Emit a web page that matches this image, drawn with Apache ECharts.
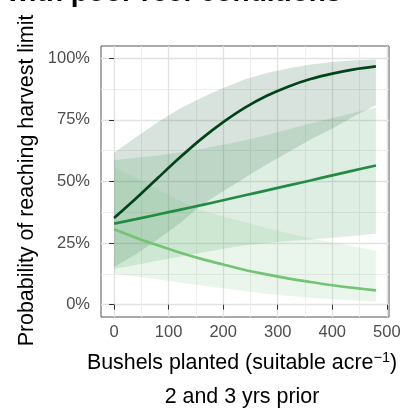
<!DOCTYPE html>
<html><head><meta charset="utf-8">
<script src="https://cdn.jsdelivr.net/npm/echarts@6/dist/echarts.min.js"></script>
<style>html,body{margin:0;padding:0;background:#fff}#c{width:417px;height:410px}</style>
</head><body><div id="c"></div>
<script>
// Bushels planted (suitable acre^-1)
const bushels   = [0, 40, 80, 120, 160, 200, 240, 280, 320, 360, 400, 440, 480];
// dark green series (fit + interval), %
const darkFit   = [35.2, 43.1, 51.4, 59.6, 67.3, 74.1, 80.0, 84.8, 88.6, 91.6, 93.8, 95.5, 96.7];
const darkLo    = [15.3, 20.5, 26.5, 33.0, 40.5, 46.0, 51.5, 57.0, 62.0, 67.0, 71.5, 76.5, 81.0];
const darkHi    = [61.7, 68.0, 74.0, 79.5, 84.0, 88.0, 91.5, 94.0, 96.0, 97.5, 98.5, 99.2, 99.5];
// medium green series
const midFit    = [32.9, 34.7, 36.6, 38.5, 40.4, 42.4, 44.4, 46.4, 48.4, 50.4, 52.5, 54.5, 56.5];
const midLo     = [14.5, 16.1, 17.8, 19.5, 21.1, 22.7, 24.1, 25.0, 25.8, 26.5, 27.2, 28.0, 28.8];
const midHi     = [58.6, 59.6, 60.6, 61.8, 63.2, 64.9, 66.7, 68.9, 71.2, 73.5, 75.8, 77.9, 80.0];
// light green series
const lightFit  = [30.6, 27.2, 24.1, 21.2, 18.6, 16.3, 14.1, 12.3, 10.6, 9.2, 7.9, 6.8, 5.8];
const lightLo   = [12.6, 11.5, 10.3, 9.0, 7.8, 6.7, 5.5, 4.4, 3.5, 2.8, 2.2, 1.7, 1.3];
const lightHi   = [56.0, 51.5, 46.8, 42.3, 38.3, 35.8, 33.6, 31.0, 29.0, 27.0, 25.3, 23.6, 22.0];
// tick labels / gridlines
const xMajorTicks = [0, 100, 200, 300, 400, 500];
const xMinorTicks = [50, 150, 250, 350, 450];
const yMajorTicks = [0, 25, 50, 75, 100];
const yMinorTicks = [12.5, 37.5, 62.5, 87.5];

const FONT = '"Liberation Sans", Arial, Helvetica, sans-serif';
const chart = echarts.init(document.getElementById('c'), null, {renderer: 'canvas'});

function pairs(ys) { return bushels.map((x, i) => [x, ys[i]]); }

function ribbon(id, lo, hi, color) {
  return {
    type: 'custom', name: id, coordinateSystem: 'cartesian2d', xAxisIndex: 0, yAxisIndex: 0,
    data: bushels.map((x, i) => [x, lo[i], hi[i]]),
    encode: {x: 0, y: [1, 2]},
    silent: true, z: 2, animation: false,
    renderItem: function (params, api) {
      if (params.dataIndex !== 0) return null;
      const pts = [];
      for (let i = 0; i < bushels.length; i++) pts.push(api.coord([bushels[i], hi[i]]));
      for (let i = bushels.length - 1; i >= 0; i--) pts.push(api.coord([bushels[i], lo[i]]));
      return {type: 'polygon', shape: {points: pts}, style: {fill: color}};
    }
  };
}
function fitLine(id, ys, color) {
  return {type: 'line', name: id, data: pairs(ys), symbol: 'none', smooth: 0.3,
    lineStyle: {color: color, width: 2.7}, z: 3, silent: true, animation: false};
}

const series = [
  ribbon('dark', darkLo, darkHi, 'rgba(0,68,27,0.15)'),
  ribbon('mid', midLo, midHi, 'rgba(35,139,69,0.15)'),
  ribbon('light', lightLo, lightHi, 'rgba(116,196,118,0.15)'),
  fitLine('lightFit', lightFit, '#74c476'),
  fitLine('midFit', midFit, '#238b45'),
  fitLine('darkFit', darkFit, '#00441b')
];

const option = {
  animation: false,
  backgroundColor: '#fff',
  grid: {left: 101, top: 46, width: 288, height: 271, show: true, borderColor: '#555', borderWidth: 1, backgroundColor: '#fff'},
  xAxis: [
    {type: 'value', min: -24, max: 504, position: 'bottom',
     axisLine: {show: false},
     axisTick: {show: true, length: 5, customValues: xMajorTicks, lineStyle: {color: '#333', width: 1}},
     axisLabel: {customValues: xMajorTicks, color: '#4d4d4d', fontSize: 16.5, margin: 7, fontFamily: FONT},
     splitLine: {show: true, lineStyle: {color: '#e2e2e2', width: 1.3}}},
    {type: 'value', min: -24, max: 504, position: 'top',
     axisLine: {show: false}, axisTick: {show: false, customValues: xMinorTicks}, axisLabel: {show: false},
     splitLine: {show: true, lineStyle: {color: '#ececec', width: 0.9}}}
  ],
  yAxis: [
    {type: 'value', min: -5, max: 105, position: 'left',
     axisLine: {show: false},
     axisTick: {show: true, length: 5, customValues: yMajorTicks, lineStyle: {color: '#333', width: 1}},
     axisLabel: {customValues: yMajorTicks, formatter: '{value}%', color: '#4d4d4d', fontSize: 16.5, margin: 11, fontFamily: FONT},
     splitLine: {show: true, lineStyle: {color: '#e2e2e2', width: 1.3}}},
    {type: 'value', min: -5, max: 105, position: 'right',
     axisLine: {show: false}, axisTick: {show: false, customValues: yMinorTicks}, axisLabel: {show: false},
     splitLine: {show: true, lineStyle: {color: '#ececec', width: 0.9}}}
  ],
  graphic: [
    {type: 'text', x: 7, y: -6.5, silent: true,
     style: {text: 'with poor reef conditions', fontSize: 28, fontWeight: 'bold', fontFamily: FONT, fill: '#000', align: 'left', verticalAlign: 'middle'}},
    {type: 'text', x: 26.8, y: 180.5, rotation: Math.PI / 2, silent: true,
     style: {text: 'Probability of reaching harvest limit', fontSize: 21.4, fontFamily: FONT, fill: '#000', align: 'center', verticalAlign: 'middle'}},
    {type: 'text', x: 242, y: 363, silent: true,
     style: {text: '{a|Bushels planted (suitable acre}{s|−1}{a|)}', align: 'center', verticalAlign: 'middle', fill: '#000',
       rich: {a: {fontSize: 21.4, fontFamily: FONT, fill: '#000'},
              s: {fontSize: 14.5, fontFamily: FONT, fill: '#000', padding: [0, 0, 10, 0]}}}},
    {type: 'text', x: 242, y: 397.5, silent: true,
     style: {text: '2 and 3 yrs prior', fontSize: 21.4, fontFamily: FONT, fill: '#000', align: 'center', verticalAlign: 'middle'}}
  ],
  series: series
};
chart.setOption(option);
</script>
</body></html>
